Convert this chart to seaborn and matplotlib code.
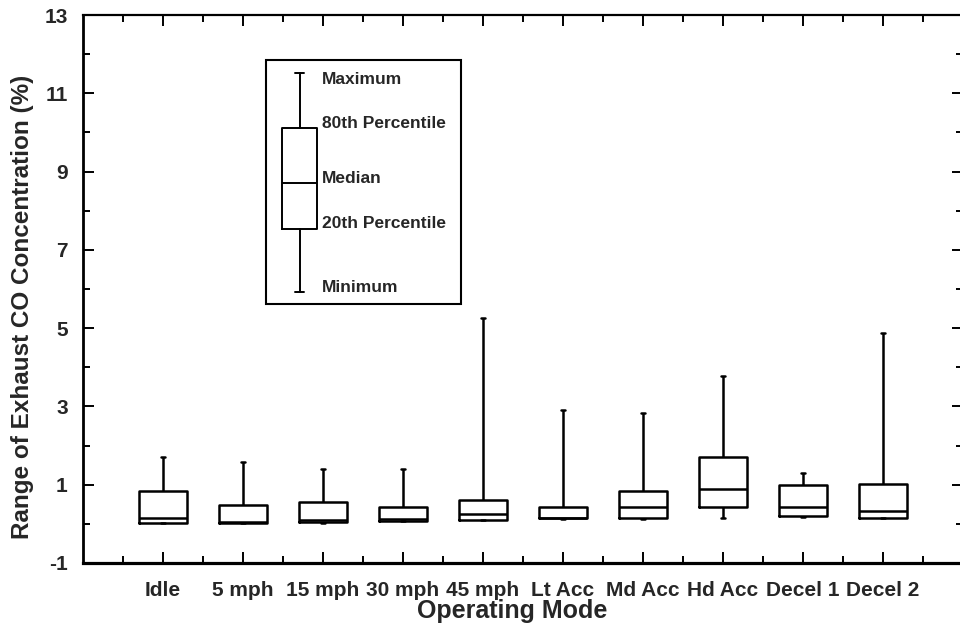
import numpy as np
import pandas as pd
import matplotlib
matplotlib.use("Agg")
import matplotlib.pyplot as plt
import seaborn as sns

# Summary statistics (% CO)
modes = ["Idle", "5 mph", "15 mph", "30 mph", "45 mph",
         "Lt Acc", "Md Acc", "Hd Acc", "Decel 1", "Decel 2"]
minimum = [0.02, 0.02, 0.03, 0.07, 0.10, 0.12, 0.12, 0.16, 0.18, 0.15]
p20 = [0.03, 0.03, 0.04, 0.08, 0.11, 0.14, 0.14, 0.44, 0.19, 0.16]
median = [0.16, 0.05, 0.11, 0.12, 0.24, 0.16, 0.42, 0.88, 0.44, 0.34]
p80 = [0.83, 0.49, 0.57, 0.42, 0.62, 0.44, 0.85, 1.70, 0.98, 1.01]
maximum = [1.70, 1.59, 1.39, 1.39, 5.25, 2.90, 2.82, 3.77, 1.29, 4.87]

# key box drawn inside the legend frame
key_stats = dict(whislo=5.92, q1=7.53, med=8.70, q3=10.11, whishi=11.52)
key_labels = ["Maximum", "80th Percentile", "Median", "20th Percentile", "Minimum"]
key_label_y = [11.36, 10.24, 8.83, 7.68, 6.04]

# five points per mode -> 25/50/75 percentiles land on p20/median/p80
rows = []
for i, m in enumerate(modes):
    for v in (minimum[i], p20[i], median[i], p80[i], maximum[i]):
        rows.append({"mode": m, "co": v})
df = pd.DataFrame(rows)

sns.set_style("ticks")
plt.rcParams["font.family"] = ["Liberation Sans", "DejaVu Sans"]
plt.rcParams["font.weight"] = "bold"
plt.rcParams["axes.unicode_minus"] = False

fig = plt.figure(figsize=(9.6, 6.27), dpi=100)
ax = fig.add_axes([83 / 960, 64 / 627, 880 / 960, 548 / 627])

sns.boxplot(data=df, x="mode", y="co", order=modes, ax=ax,
            whis=(0, 100), width=0.6, fill=False, color="black",
            linewidth=1.8, capwidths=0.04)

# legend key
ax.bxp([key_stats], positions=[1.71], widths=[0.44], capwidths=[0.11],
       showfliers=False, manage_ticks=False,
       boxprops=dict(color="black", linewidth=1.4),
       whiskerprops=dict(color="black", linewidth=1.4),
       capprops=dict(color="black", linewidth=1.4),
       medianprops=dict(color="black", linewidth=1.4))
for lab, yy in zip(key_labels, key_label_y):
    ax.text(1.99, yy, lab, fontsize=12.5, fontweight="bold", va="center", ha="left")
frame = plt.Rectangle((0.208, 0.4726), 0.2215, 0.4454, transform=ax.transAxes,
                      fill=False, edgecolor="black", linewidth=1.5)
ax.add_patch(frame)

ax.set_xlim(-1, 10)
ax.set_ylim(-1, 13)
ax.set_xticks(range(len(modes)))
ax.set_xticklabels(modes)
ax.set_xticks(np.arange(-0.5, 10, 1), minor=True)
ax.set_yticks(range(-1, 14, 2))
ax.set_yticklabels([str(v) for v in range(-1, 14, 2)])
ax.set_yticks(range(0, 13, 2), minor=True)

ax.tick_params(which="both", direction="in", top=True, right=True,
               color="black", width=1.4)
ax.tick_params(which="major", length=8)
ax.tick_params(which="minor", length=5)
ax.tick_params(axis="x", which="major", labelsize=15, pad=13)
ax.tick_params(axis="y", which="major", labelsize=15, pad=11)

for s in ax.spines.values():
    s.set_visible(True)
    s.set_color("black")
    s.set_linewidth(1.6)
ax.spines["bottom"].set_linewidth(2.3)
ax.spines["left"].set_linewidth(2.0)

ax.set_xlabel("Operating Mode", fontsize=18, fontweight="bold")
ax.set_ylabel("Range of Exhaust CO Concentration (%)", fontsize=17.5, fontweight="bold")
ax.xaxis.set_label_coords(0.488, -0.066)
ax.yaxis.set_label_coords(-0.056, 0.468)

fig.savefig("out.png", dpi=100, facecolor="white")
